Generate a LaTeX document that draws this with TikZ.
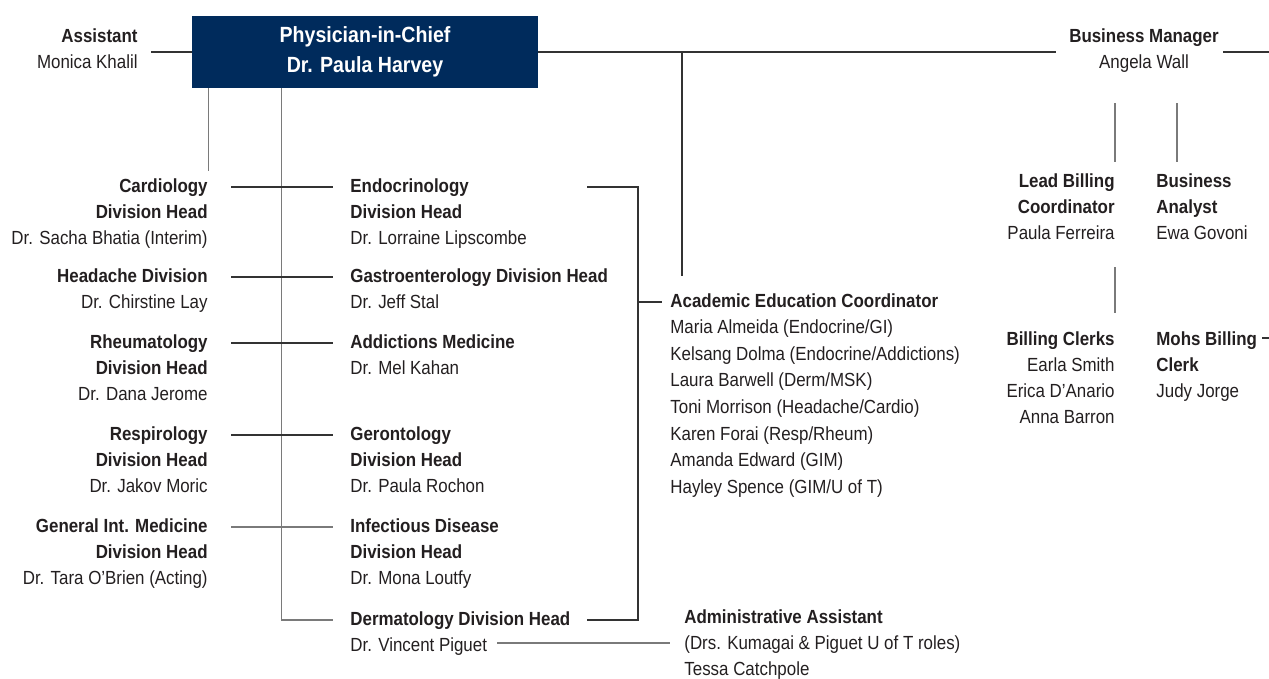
\documentclass[tikz,border=0pt]{standalone}
\usepackage{fontspec}
\setmainfont[FakeStretch=0.89]{Liberation Sans}
\definecolor{chiefblue}{HTML}{002B5C}
\definecolor{ink}{HTML}{231F20}
\definecolor{rule}{HTML}{333333}
\definecolor{rulegray}{HTML}{7A7A7A}
\tikzset{
  unit/.style={inner sep=0pt, text=ink, font=\fontsize{9.5}{13}\selectfont},
  unitL/.style={unit, anchor=north west, align=left},
  unitR/.style={unit, anchor=north east, align=right},
  link/.style={draw=rule, line width=0.7pt},
  linkgray/.style={draw=rulegray, line width=0.7pt},
}
\begin{document}
\begin{tikzpicture}[x=0.5pt,y=-0.5pt]
\useasboundingbox (0,0) rectangle (1269,679);
% head of department
\node[fill=chiefblue, text=white, inner sep=0pt, minimum width=173pt, minimum height=36pt,
  align=center, font=\fontsize{11}{15}\selectfont\bfseries] (chief) at (365,52) {Physician-in-Chief\\Dr. Paula Harvey};
\node[unitR] (asst) at (138,28) {\textbf{Assistant}\\Monica Khalil};
\node[unit, anchor=north, align=center] (bizmgr) at (1144,28) {\textbf{Business Manager}\\Angela Wall};
\coordinate (bmL) at (1056,52);
\coordinate (bmR) at (1223,52);
\coordinate (top) at (682,52);
\draw[link] (chief.west) -- ++(-41,0);
\draw[link] (chief.east) -- (bmL);
\draw[link] (bmR) -- (1269,52);
\draw[link] (top) -- ++(0,224);
% divisions, left column
\node[unitR] (cardio) at (208,178) {\textbf{Cardiology}\\\textbf{Division Head}\\Dr. Sacha Bhatia (Interim)};
\node[unitR] (headache) at (208,268) {\textbf{Headache Division}\\Dr. Chirstine Lay};
\node[unitR] (rheum) at (208,334) {\textbf{Rheumatology}\\\textbf{Division Head}\\Dr. Dana Jerome};
\node[unitR] (resp) at (208,426) {\textbf{Respirology}\\\textbf{Division Head}\\Dr. Jakov Moric};
\node[unitR] (gim) at (208,518) {\textbf{General Int. Medicine}\\\textbf{Division Head}\\Dr. Tara O'Brien (Acting)};
% divisions, middle column
\node[unitL] (endo) at (350,178) {\textbf{Endocrinology}\\\textbf{Division Head}\\Dr. Lorraine Lipscombe};
\node[unitL] (gastro) at (350,268) {\textbf{Gastroenterology Division Head}\\Dr. Jeff Stal};
\node[unitL] (addict) at (350,334) {\textbf{Addictions Medicine}\\Dr. Mel Kahan};
\node[unitL] (geront) at (350,426) {\textbf{Gerontology}\\\textbf{Division Head}\\Dr. Paula Rochon};
\node[unitL] (infect) at (350,518) {\textbf{Infectious Disease}\\\textbf{Division Head}\\Dr. Mona Loutfy};
\node[unitL] (derm) at (350,611) {\textbf{Dermatology Division Head}\\Dr. Vincent Piguet};
% education and admin
\node[unitL, font=\fontsize{9.5}{13.3}\selectfont] (acad) at (670,293) {\textbf{Academic Education Coordinator}\\
  Maria Almeida (Endocrine/GI)\\Kelsang Dolma (Endocrine/Addictions)\\Laura Barwell (Derm/MSK)\\
  Toni Morrison (Headache/Cardio)\\Karen Forai (Resp/Rheum)\\Amanda Edward (GIM)\\Hayley Spence (GIM/U of T)};
\node[unitL] (admin) at (684,609) {\textbf{Administrative Assistant}\\(Drs. Kumagai \& Piguet U of T roles)\\Tessa Catchpole};
% business office
\node[unitR] (lead) at (1115,173) {\textbf{Lead Billing}\\\textbf{Coordinator}\\Paula Ferreira};
\node[unitL] (analyst) at (1156,173) {\textbf{Business}\\\textbf{Analyst}\\Ewa Govoni};
\node[unitR] (clerks) at (1115,331) {\textbf{Billing Clerks}\\Earla Smith\\Erica D'Anario\\Anna Barron};
\node[unitL] (mohs) at (1156,331) {\textbf{Mohs Billing}\\\textbf{Clerk}\\Judy Jorge};
% connectors
\draw[linkgray] ([xshift=8.5pt]chief.south west) -- ++(0,83);
\draw[linkgray] ([xshift=45pt]chief.south west) |- ([shift={(-8.5pt,-4.5pt)}]derm.north west);
\foreach \l/\r in {cardio/endo, headache/gastro, rheum/addict, resp/geront}
  \draw[link] ([shift={(11.5pt,-4.5pt)}]\l.north east) -- ([shift={(-8.5pt,-4.5pt)}]\r.north west);
\draw[linkgray] ([shift={(11.5pt,-4.5pt)}]gim.north east) -- ([shift={(-8.5pt,-4.5pt)}]infect.north west);
\coordinate (brkT) at (638,187);
\coordinate (brkB) at (638,620);
\draw[link] (brkT) ++(-51,0) -- (brkT) -- (brkB) -- ++(-51,0);
\draw[link] (brkT |- 0,302) -- ([shift={(-4pt,-4.5pt)}]acad.north west);
\draw[linkgray] (497,643) -- ([shift={(-7pt,-17pt)}]admin.north west);
\draw[linkgray] ([yshift=5.5pt]lead.north east) -- ++(0,-59);
\draw[linkgray] ([shift={(10.5pt,5.5pt)}]analyst.north west) -- ++(0,-59);
\draw[linkgray] ([yshift=9pt]clerks.north east) -- ++(0,-46);
\draw[link] (1262,338) -- (1269,338);
\end{tikzpicture}
\end{document}
